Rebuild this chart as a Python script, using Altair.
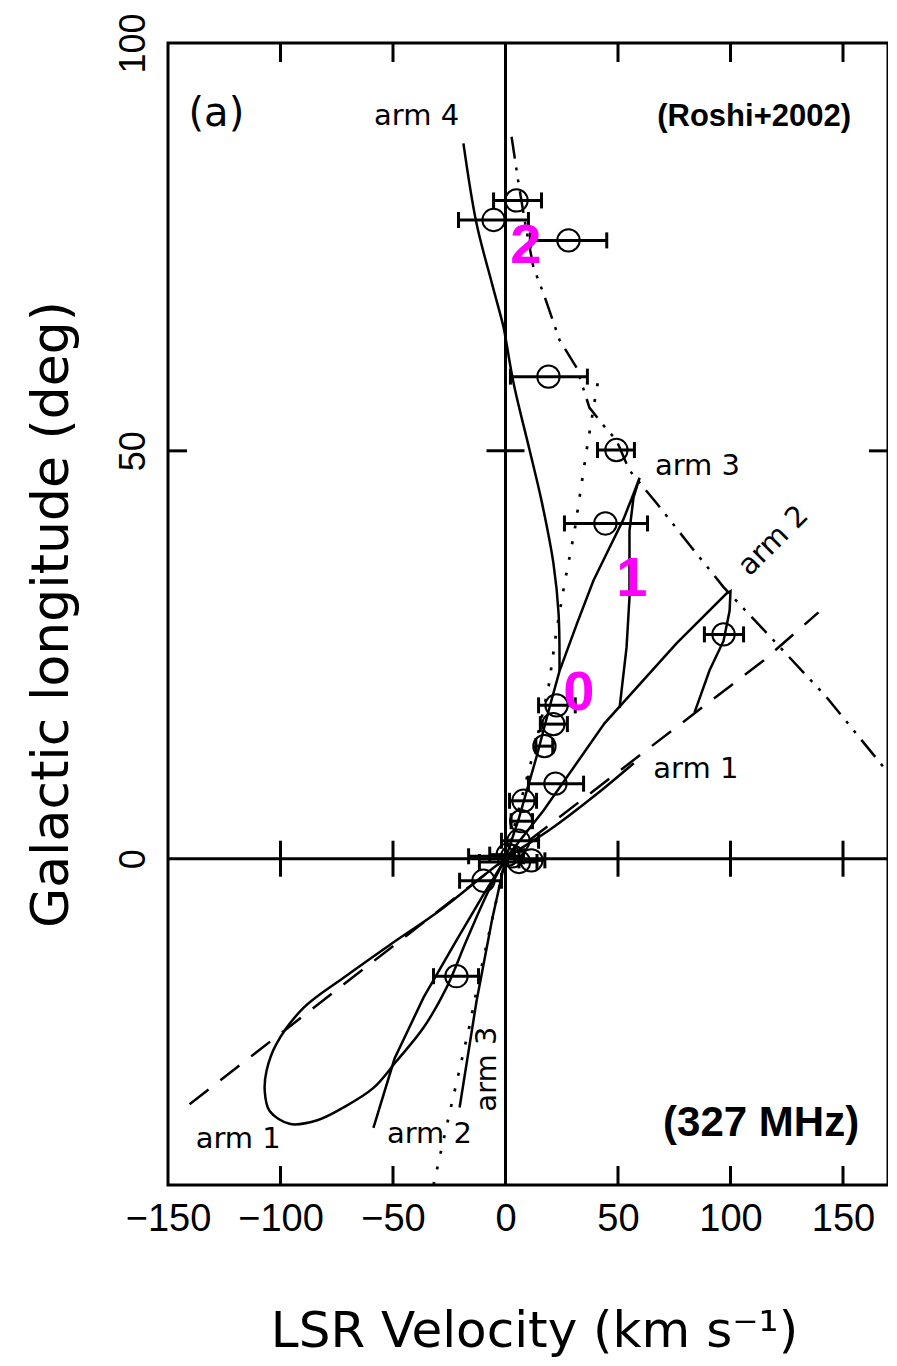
import altair as alt
import pandas as pd

# ---------------- axis setup ----------------
x_domain = [-150, 170]
y_domain = [-40, 100]
x_tick_values = [-150, -100, -50, 0, 50, 100, 150]
y_tick_values = [0, 50, 100]
x_inner_ticks = [-100, -50, 0, 50, 100, 150]
y_inner_ticks = [50]
x_cross_ticks = [-100, -50, 50, 100, 150]
y_cross_ticks = [50]

# ---------------- model curves (LSR velocity, longitude) ----------------
arm1_v = [57.0, 40.0, 20.0, 0.0, -30.0, -51.6, -72.0, -89.8, -101.8, -106.2, -107.0,
          -104.9, -96.0, -84.0, -72.0, -58.7, -48.4, -36.4, -26.2, -17.3, -8.0, 0.0]
arm1_l = [11.7, 7.8, 3.6, 0.0, -6.5, -10.6, -14.6, -18.3, -22.7, -26.0, -28.5,
          -30.9, -32.5, -32.1, -30.5, -28.1, -24.8, -20.7, -15.8, -10.0, -4.2, 0.0]

arm2_v = [-58.7, -49.3, -36.4, -21.8, -10.0, 0.0, 16.9, 44.0, 76.0, 98.2, 100.0,
          99.6, 96.9, 90.7, 84.0]
arm2_l = [-33.0, -24.5, -17.0, -10.0, -4.5, 0.0, 5.9, 16.6, 26.4, 32.5, 32.8,
          30.4, 26.7, 23.1, 17.9]

arm3_v = [-20.4, -12.9, -6.0, 0.0, 6.0, 13.8, 20.0, 24.0, 32.0, 39.1, 46.0, 52.4,
          57.0, 59.6, 56.9, 55.1, 55.1, 53.8, 50.7]
arm3_l = [-30.5, -17.5, -7.5, 0.0, 5.0, 12.5, 19.0, 23.0, 29.0, 34.1, 38.0, 41.6,
          44.8, 46.7, 44.3, 40.2, 32.0, 25.9, 18.5]

arm4_v = [-18.7, -12.9, -6.0, -0.9, 0.0, 3.6, 10.7, 16.0, 21.3, 23.6, 24.0]
arm4_l = [87.7, 77.9, 70.5, 65.2, 63.9, 58.3, 50.1, 43.9, 36.2, 30.0, 23.0]

dashed_v = [-140.4, -70.0, 0.0, 64.0, 114.7, 139.1]
dashed_l = [-30.1, -15.0, 0.0, 13.6, 24.3, 30.2]

dotted_v = [-32.0, -26.2, -21.8, -16.0, -12.0, -6.0, 0.0, 4.0, 8.0, 13.8, 19.1, 22.7,
            26.2, 30.7, 36.0, 40.4, 41.8]
dotted_l = [-40.0, -32.8, -27.5, -20.5, -15.0, -7.5, 0.0, 4.0, 8.3, 14.5, 21.0, 28.0,
            33.7, 40.2, 50.0, 57.4, 59.6]

dashdot_v = [2.7, 5.8, 9.0, 12.4, 16.9, 24.0, 31.6, 37.3, 43.0, 49.3, 55.1, 67.1,
             82.0, 96.9, 120.4, 142.7, 169.3]
dashdot_l = [88.5, 82.8, 77.5, 72.5, 69.3, 63.6, 60.2, 55.3, 53.3, 51.3, 47.6, 43.6,
             38.4, 33.3, 26.4, 19.8, 10.8]

# ---------------- observed recombination lines ----------------
obs_v  = [4.9, -5.3, 28.0, 19.1, 49.3, 44.4, 96.9, 22.7, 21.3, 17.3, 22.2, 8.0,
          7.0, 5.8, 3.0, 6.0, 11.5, 1.0, -9.8, -21.8]
obs_l  = [80.7, 78.3, 75.8, 59.1, 50.1, 41.1, 27.5, 18.8, 16.5, 13.8, 9.2, 7.1,
          4.6, 2.2, 0.3, -0.4, -0.2, 0.5, -2.7, -14.4]
obs_lo = [-5.3, -20.9, 11.0, 2.2, 40.9, 26.2, 88.4, 14.7, 15.5, 13.5, 10.2, 1.8,
          2.5, -1.8, -16.4, -11.6, 6.0, -7.0, -20.4, -32.0]
obs_hi = [16.0, 10.2, 45.0, 36.4, 57.3, 63.1, 105.8, 31.0, 27.5, 21.0, 34.7, 13.8,
          12.0, 14.7, 8.0, 14.0, 17.5, 4.0, -1.8, -12.0]

# ---------------- annotations ----------------
arm_text = ["arm 4", "arm 3", "arm 1", "arm 1", "arm 2"]
arm_text_v = [-39.5, 85.3, 84.6, -118.8, -33.8]
arm_text_l = [91.0, 48.2, 11.0, -34.4, -33.7]

magenta_text = ["2", "1", "0"]
magenta_v = [9.0, 56.2, 32.6]
magenta_l = [73.0, 32.2, 18.2]

# ---------------- helpers ----------------
xscale = alt.Scale(domain=x_domain, nice=False, zero=False)
yscale = alt.Scale(domain=y_domain, nice=False, zero=False)

xaxis = alt.Axis(values=x_tick_values, ticks=False, domain=False, grid=False,
                 labelFont="Liberation Sans", labelFontSize=38, labelPadding=15,
                 labelColor="black", labelFlush=False, labelOverlap=False,
                 title="LSR Velocity (km s\u207b\u00b9)", titleFont="DejaVu Sans",
                 titleFontSize=50, titleFontWeight="normal", titleColor="black",
                 titleX=366, titleY=161, titleBaseline="alphabetic", titleAlign="center")
yaxis = alt.Axis(values=y_tick_values, ticks=False, domain=False, grid=False,
                 labelFont="Liberation Sans", labelFontSize=36, labelPadding=24,
                 labelAngle=270, labelAlign="center", labelBaseline="alphabetic",
                 labelColor="black", labelFlush=False, labelOverlap=False,
                 title="Galactic longitude (deg)", titleFont="DejaVu Sans",
                 titleFontSize=52, titleFontWeight="normal", titleColor="black",
                 titleAngle=270, titleX=-101, titleY=571, titleBaseline="alphabetic",
                 titleAlign="center")


def X(f):
    return alt.X(f, type="quantitative", scale=xscale, axis=xaxis)


def Y(f):
    return alt.Y(f, type="quantitative", scale=yscale, axis=yaxis)


def curve(name, vs, ls):
    return pd.DataFrame({"v": vs, "l": ls, "arm": name, "ord": list(range(len(vs)))})


smooth_df = pd.concat([curve("arm1", arm1_v, arm1_l), curve("arm4", arm4_v, arm4_l)])
sharp_df = pd.concat([curve("arm2", arm2_v, arm2_l), curve("arm3", arm3_v, arm3_l)])
dashed_df = curve("dashed", dashed_v, dashed_l)
dotted_df = curve("dotted", dotted_v, dotted_l)
dashdot_df = curve("dashdot", dashdot_v, dashdot_l)

obs_df = pd.DataFrame({"v": obs_v, "l": obs_l, "lo": obs_lo, "hi": obs_hi})


def line_layer(df, dash=None, width=2.5, interp="linear"):
    kw = dict(color="black", strokeWidth=width, strokeCap="butt", interpolate=interp,
              opacity=1)
    if dash:
        kw["strokeDash"] = dash
    return alt.Chart(df).mark_line(**kw).encode(
        x=X("v"), y=Y("l"), detail="arm:N", order="ord:Q")


smooth = line_layer(smooth_df, interp="catmull-rom")
sharp = line_layer(sharp_df)
dashed = line_layer(dashed_df, [24, 15])
dotted = line_layer(dotted_df, [3, 13], 2.7)
dashdot = line_layer(dashdot_df, [22, 9, 3, 9, 3, 9])

# zero lines
zero_v = alt.Chart(pd.DataFrame({"v": [0], "l0": [y_domain[0]], "l1": [y_domain[1]]})).mark_rule(
    color="black", strokeWidth=3).encode(x=X("v"), y=Y("l0"), y2="l1")
zero_h = alt.Chart(pd.DataFrame({"l": [0], "v0": [x_domain[0]], "v1": [x_domain[1]]})).mark_rule(
    color="black", strokeWidth=3).encode(y=Y("l"), x=X("v0"), x2="v1")

# inward frame ticks
top_df = pd.DataFrame({"v": x_inner_ticks, "l": [y_domain[1]] * len(x_inner_ticks)})
bot_df = pd.DataFrame({"v": x_inner_ticks, "l": [y_domain[0]] * len(x_inner_ticks)})
left_df = pd.DataFrame({"l": y_inner_ticks, "v": [x_domain[0]] * len(y_inner_ticks)})
right_df = pd.DataFrame({"l": y_inner_ticks, "v": [x_domain[1]] * len(y_inner_ticks)})
tick_len = 19
top_t = alt.Chart(top_df).mark_rule(color="black", strokeWidth=3, y2Offset=tick_len).encode(
    x=X("v"), y=Y("l"), y2="l")
bot_t = alt.Chart(bot_df).mark_rule(color="black", strokeWidth=3, y2Offset=-tick_len).encode(
    x=X("v"), y=Y("l"), y2="l")
left_t = alt.Chart(left_df).mark_rule(color="black", strokeWidth=3, x2Offset=tick_len).encode(
    x=X("v"), x2="v", y=Y("l"))
right_t = alt.Chart(right_df).mark_rule(color="black", strokeWidth=3, x2Offset=-tick_len).encode(
    x=X("v"), x2="v", y=Y("l"))

# ticks crossing the zero lines
xc_df = pd.DataFrame({"v": x_cross_ticks, "l": [0] * len(x_cross_ticks)})
yc_df = pd.DataFrame({"l": y_cross_ticks, "v": [0] * len(y_cross_ticks)})
xc_t = alt.Chart(xc_df).mark_rule(color="black", strokeWidth=3, yOffset=-18, y2Offset=18).encode(
    x=X("v"), y=Y("l"), y2="l")
yc_t = alt.Chart(yc_df).mark_rule(color="black", strokeWidth=3, xOffset=-19, x2Offset=19).encode(
    y=Y("l"), x=X("v"), x2="v")

# observations
bars = alt.Chart(obs_df).mark_rule(color="black", strokeWidth=3, opacity=1).encode(
    x=X("lo"), x2="hi", y=Y("l"))
cap_lo = alt.Chart(obs_df).mark_tick(color="black", orient="vertical", size=16, thickness=3,
                                     opacity=1).encode(x=X("lo"), y=Y("l"))
cap_hi = alt.Chart(obs_df).mark_tick(color="black", orient="vertical", size=16, thickness=3,
                                     opacity=1).encode(x=X("hi"), y=Y("l"))
circles = alt.Chart(obs_df).mark_point(shape="circle", size=500, filled=False, color="black",
                                       strokeWidth=2, opacity=1).encode(x=X("v"), y=Y("l"))

# text
arm_df = pd.DataFrame({"v": arm_text_v, "l": arm_text_l, "t": arm_text})
arm_labels = alt.Chart(arm_df).mark_text(font="DejaVu Sans", fontSize=29, color="black",
                                         align="center", baseline="middle").encode(
    x=X("v"), y=Y("l"), text="t:N")
arm3_rot = alt.Chart(pd.DataFrame({"v": [-8.3], "l": [-25.8], "t": ["arm 3"]})).mark_text(
    font="DejaVu Sans", fontSize=29, color="black", angle=270, align="center",
    baseline="middle").encode(x=X("v"), y=Y("l"), text="t:N")
arm2_rot = alt.Chart(pd.DataFrame({"v": [119.0], "l": [39.0], "t": ["arm 2"]})).mark_text(
    font="DejaVu Sans", fontSize=29, color="black", angle=315, align="center",
    baseline="middle").encode(x=X("v"), y=Y("l"), text="t:N")
panel = alt.Chart(pd.DataFrame({"v": [-128.5], "l": [91.3], "t": ["(a)"]})).mark_text(
    font="DejaVu Sans", fontSize=40, color="black", align="center",
    baseline="middle").encode(x=X("v"), y=Y("l"), text="t:N")
ref = alt.Chart(pd.DataFrame({"v": [110.5], "l": [89.8], "t": ["(Roshi+2002)"]})).mark_text(
    font="Liberation Sans", fontSize=31, fontWeight="bold", color="black", align="center",
    baseline="alphabetic").encode(x=X("v"), y=Y("l"), text="t:N")
freq = alt.Chart(pd.DataFrame({"v": [113.6], "l": [-34.0], "t": ["(327 MHz)"]})).mark_text(
    font="Liberation Sans", fontSize=42, fontWeight="bold", color="black", align="center",
    baseline="alphabetic").encode(x=X("v"), y=Y("l"), text="t:N")
mag_df = pd.DataFrame({"v": magenta_v, "l": magenta_l, "t": magenta_text})
magenta = alt.Chart(mag_df).mark_text(font="Liberation Sans", fontSize=56, fontWeight="bold",
                                      color="#ff00ff", align="center",
                                      baseline="alphabetic").encode(
    x=X("v"), y=Y("l"), text="t:N")

chart = alt.layer(
    smooth, sharp, dashed, dotted, dashdot, zero_v, zero_h, top_t, bot_t, left_t, right_t,
    xc_t, yc_t, bars, cap_lo, cap_hi, circles, arm_labels, arm3_rot, arm2_rot, panel, ref,
    freq, magenta
).properties(
    width=720, height=1142,
    autosize=alt.AutoSizeParams(type="none"),
    padding={"left": 160, "top": 35, "right": 0, "bottom": 172},
).configure(background="white").configure_view(stroke="black", strokeWidth=3)

chart.save("out.html", embed_options={"renderer": "svg", "actions": False})
